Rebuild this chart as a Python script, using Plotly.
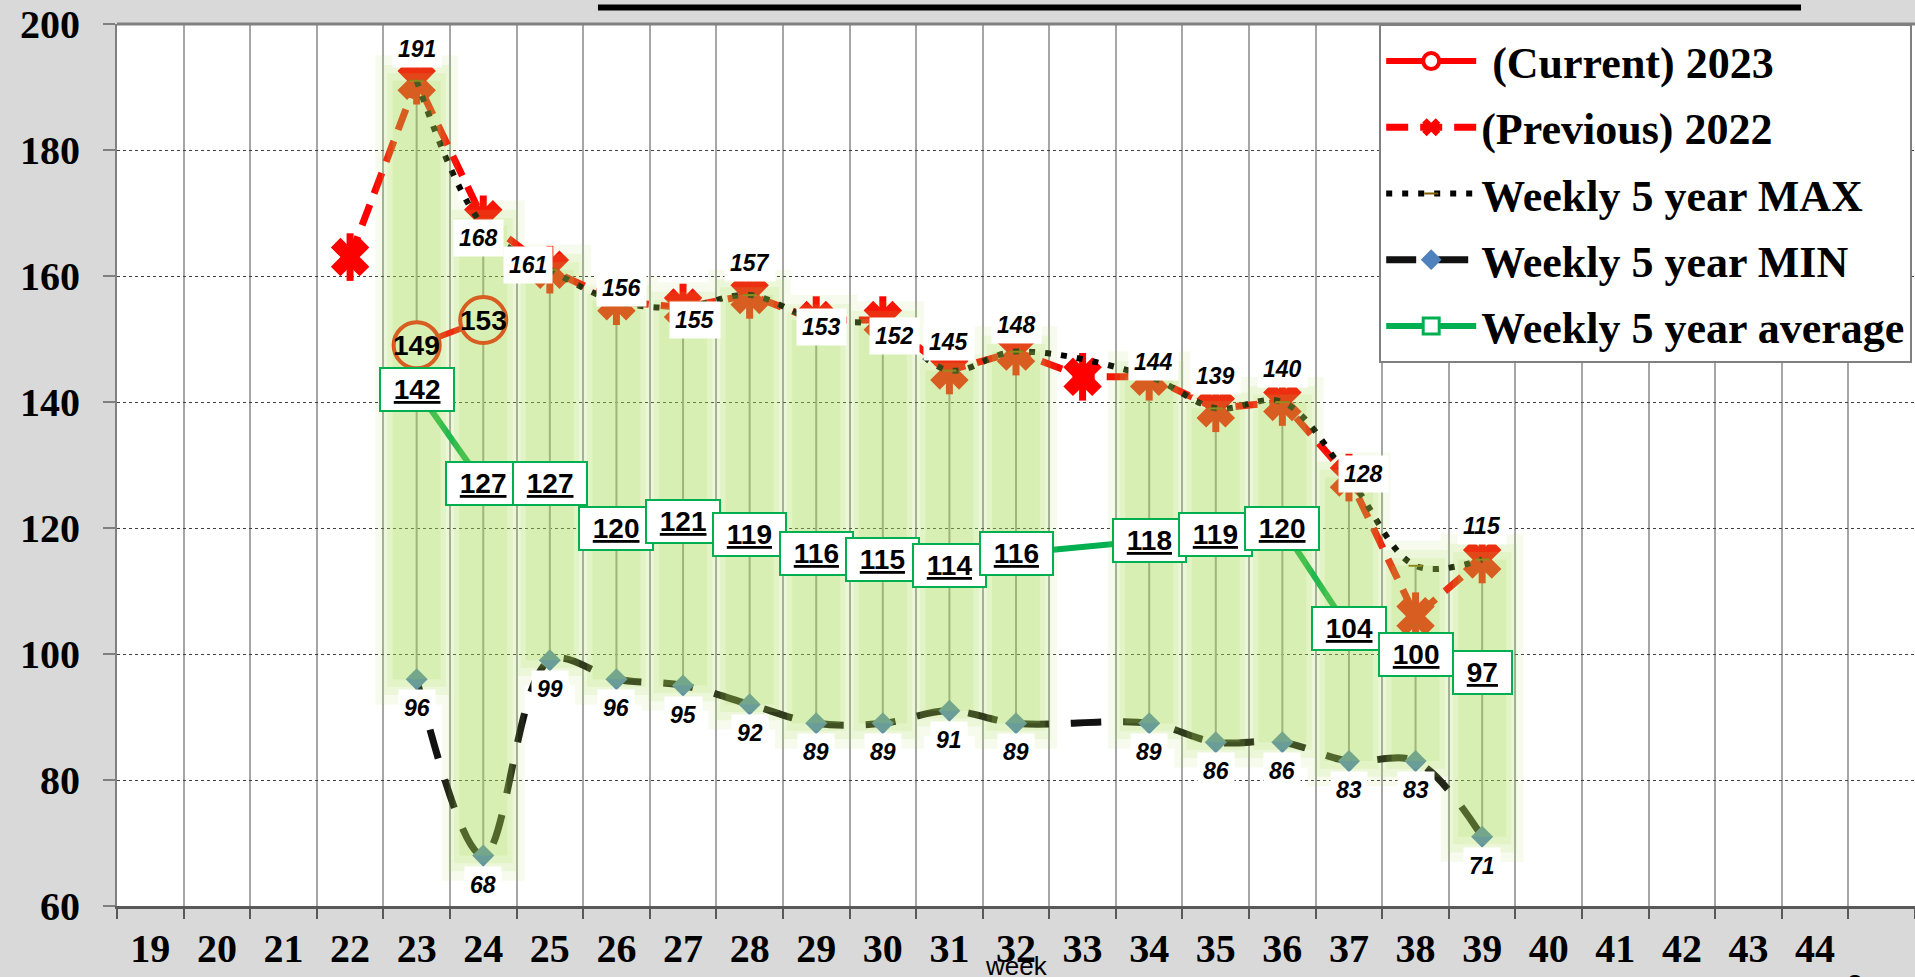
import plotly.graph_objects as go

# ---------------- data ----------------
tick_weeks = list(range(19, 45))                      # x tick labels
prev_weeks = list(range(22, 40))
prev_2022 = [163, 191, 169, 161, 156, 155, 157, 153, 153, 145, 148, 144, 144, 139, 140, 128, 106, 115]
cur_weeks = [23, 24]
cur_2023 = [149, 153]
stat_weeks = list(range(23, 40))
max_5y = [191, 168, 161, 156, 155, 157, 153, 152, 145, 148, None, 144, 139, 140, 128, 114, 115]
min_5y = [96, 68, 99, 96, 95, 92, 89, 89, 91, 89, None, 89, 86, 86, 83, 83, 71]
avg_5y = [142, 127, 127, 120, 121, 119, 116, 115, 114, 116, None, 118, 119, 120, 104, 100, 97]
max_labels = ['191', '168', '161', '156', '155', '157', '153', '152', '145', '148', None,
              '144', '139', '140', '128', None, '115']
y_ticks = list(range(60, 201, 20))

# ---------------- styles ----------------
max_label_shift = [(0, 32), (-5, -12), (-22, 5), (5, 13), (12, -12), (0, 32), (5, -7), (12, -10),
                   (0, 29), (0, 27), None, (4, 15), (0, 32), (0, 33), (15, 4), None, (0, 34)]
SERIF = 'Liberation Serif'
SANS = 'Liberation Sans'
GREEN = '#00b050'
RED = '#ff0000'
NB = '\u00a0'
band_rgb = '167,218,81'
band_layers = [(0.62, 4.0, 0.10), (0.52, 2.5, 0.12), (0.44, 1.2, 0.14), (0.36, 0.0, 0.16)]

fig = go.Figure()

# drop lines (max -> min)
dx, dy = [], []
for w, hi, lo in zip(stat_weeks, max_5y, min_5y):
    if hi is None or lo is None:
        continue
    dx += [w, w, None]
    dy += [hi, lo, None]
fig.add_trace(go.Scatter(x=dx, y=dy, mode='lines', line=dict(color='#9a9a9a', width=2),
                         showlegend=False, hoverinfo='skip'))

# 5 year average
fig.add_trace(go.Scatter(
    x=stat_weeks, y=avg_5y, mode='lines+markers', name='Weekly 5 year average',
    connectgaps=True, line=dict(color=GREEN, width=6),
    marker=dict(symbol='square', size=20, color='white', line=dict(color=GREEN, width=3)),
    legendrank=5, legendgroup='e'))

# previous 2022
fig.add_trace(go.Scatter(
    x=prev_weeks, y=prev_2022, mode='lines+markers', name='(Previous) 2022',
    line=dict(color=RED, width=7, dash='22px,12px'),
    marker=dict(symbol='x', size=34, color=RED, line=dict(width=0)),
    legendrank=2, legendgroup='b'))
fig.add_trace(go.Scatter(
    x=prev_weeks, y=prev_2022, mode='markers', showlegend=False, hoverinfo='skip',
    marker=dict(symbol='line-ns-open', size=34, color=RED, line=dict(color=RED, width=7))))

# current 2023
fig.add_trace(go.Scatter(
    x=cur_weeks, y=cur_2023, mode='lines+markers', name=NB + '(Current) 2023',
    line=dict(color=RED, width=6),
    marker=dict(symbol='circle', size=46, color='white', line=dict(color=RED, width=4)),
    legendrank=1, legendgroup='a'))

# 5 year min
fig.add_trace(go.Scatter(
    x=stat_weeks, y=min_5y, mode='lines+markers', name='Weekly 5 year MIN',
    connectgaps=True, line=dict(color='#111111', width=7, dash='30px,22px', shape='spline'),
    marker=dict(symbol='diamond', size=17, color='#4f81bd'),
    legendrank=4, legendgroup='d'))

# 5 year max
fig.add_trace(go.Scatter(
    x=stat_weeks, y=max_5y, mode='lines+markers', name='Weekly 5 year MAX',
    connectgaps=True, line=dict(color='black', width=6, dash='6px,10px', shape='spline'),
    marker=dict(symbol='line-ew-open', size=10, color='#7f6000', line=dict(color='#7f6000', width=2)),
    legendrank=3, legendgroup='c'))

# glowing high-low bands (drawn above the lines)
for hw, ext, alpha in band_layers:
    bx, by = [], []
    for w, hi, lo in zip(stat_weeks, max_5y, min_5y):
        if hi is None or lo is None:
            continue
        bx += [w - hw, w + hw, w + hw, w - hw, w - hw, None]
        by += [lo - ext, lo - ext, hi + ext, hi + ext, lo - ext, None]
    fig.add_trace(go.Scatter(x=bx, y=by, mode='lines', fill='toself',
                             fillcolor=f'rgba({band_rgb},{alpha})', line=dict(width=0),
                             showlegend=False, hoverinfo='skip'))

label_font = dict(family=SANS, size=23, color='black', weight='bold', style='italic')
annotations = []
# max labels
for w, v, t, s in zip(stat_weeks, max_5y, max_labels, max_label_shift):
    if t is None or v is None:
        continue
    annotations.append(dict(x=w, y=v, text=t, showarrow=False, xshift=s[0], yshift=s[1],
                            bgcolor='white', borderpad=5, font=label_font))
# min labels
for w, v in zip(stat_weeks, min_5y):
    if v is None:
        continue
    annotations.append(dict(x=w, y=v, text=str(v), showarrow=False, yshift=-29,
                            bgcolor='white', borderpad=5, font=label_font))
# average labels
for w, v in zip(stat_weeks, avg_5y):
    if v is None:
        continue
    annotations.append(dict(x=w, y=v, text=f'{NB}<u>{v}</u>{NB}', showarrow=False,
                            bgcolor='white', bordercolor=GREEN, borderwidth=2, borderpad=5,
                            font=dict(family=SANS, size=28, color='black', weight='bold')))
# current labels
for w, v in zip(cur_weeks, cur_2023):
    annotations.append(dict(x=w, y=v, text=str(v), showarrow=False,
                            font=dict(family=SANS, size=28, color='black', weight='bold')))
# axis title & page number
annotations.append(dict(xref='paper', yref='paper', x=0.5, y=-0.068, text='week', showarrow=False,
                        yanchor='middle', font=dict(family=SANS, size=26, color='black')))
annotations.append(dict(xref='paper', yref='paper', x=0.972, y=-0.069, text='2', showarrow=False,
                        yanchor='top', font=dict(family=SANS, size=28, color='black')))

shapes = [
    dict(type='line', xref='paper', yref='paper', x0=0, x1=1, y0=1, y1=1,
         line=dict(color='#808080', width=3)),
    dict(type='line', xref='paper', yref='paper', x0=0.2675, x1=0.9366, y0=1.0187, y1=1.0187,
         line=dict(color='black', width=6)),
]

tickfont = dict(family=SERIF, size=40, color='black', weight='bold')
boundaries = [w - 0.5 for w in tick_weeks] + [tick_weeks[-1] + 0.5, tick_weeks[-1] + 1.5]

fig.update_xaxes(
    range=[18.5, 45.5], tickmode='array', tickvals=tick_weeks, ticktext=[str(w) for w in tick_weeks],
    ticks='', showgrid=False, zeroline=False, showline=True, linecolor='#595959', linewidth=3,
    tickfont=tickfont, ticklabelstandoff=5,
    minor=dict(tickmode='array', tickvals=boundaries, ticks='outside', ticklen=10,
               tickcolor='#595959', tickwidth=2, showgrid=True, gridcolor='#a6a6a6', gridwidth=1.5))
fig.update_yaxes(
    range=[60, 200], tickmode='array', tickvals=y_ticks, ticks='outside', ticklen=12,
    tickcolor='#808080', tickwidth=2, showline=True, linecolor='#808080', linewidth=2,
    showgrid=True, gridcolor='#404040', griddash='dot', gridwidth=1, zeroline=False,
    tickfont=tickfont, ticklabelstandoff=15)

fig.update_layout(
    width=1915, height=977, margin=dict(l=117, r=0, t=24, b=71, pad=0),
    paper_bgcolor='#d9d9d9', plot_bgcolor='white',
    showlegend=True,
    legend=dict(x=0.702, y=1, xanchor='left', yanchor='top', bgcolor='white',
                bordercolor='#808080', borderwidth=2, itemwidth=90, tracegroupgap=6,
                font=dict(family=SERIF, size=44, color='black', weight='bold')),
    annotations=annotations, shapes=shapes)

fig.write_html("out.html",
               config={'displayModeBar': False},
               post_script="document.body.style.margin='0';"
                           "document.body.style.overflow='hidden';"
                           "document.body.style.background='#d9d9d9';")
